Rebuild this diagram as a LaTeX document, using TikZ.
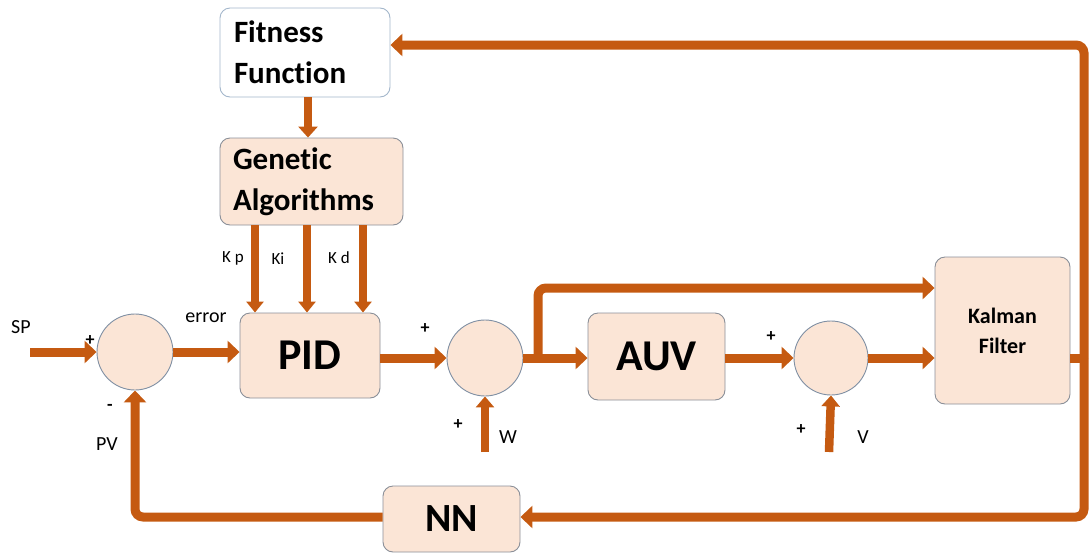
\documentclass[tikz,border=0pt]{standalone}
\usepackage{fontspec}
\setmainfont{Carlito}[Ligatures=NoCommon]
\usetikzlibrary{arrows.meta,calc}
\definecolor{flow}{HTML}{C55A11}
\definecolor{peach}{HTML}{FBE5D6}
\definecolor{boxline}{HTML}{8A8F98}
\definecolor{lightline}{HTML}{A3B6CB}
\definecolor{ringline}{HTML}{7F8FA3}
\begin{document}
\begin{tikzpicture}[x=1pt,y=-1pt,
  block/.style={draw=boxline, fill=peach, rounded corners=10pt, line width=0.9pt,
    inner sep=0pt, font=\bfseries},
  sumnode/.style={circle, draw=ringline, fill=peach, minimum size=76pt,
    inner sep=0pt, line width=0.9pt},
  flowline/.style={draw=flow, line width=9pt},
  flowarrow/.style={flowline, -{Triangle[length=12pt,width=22pt]}},
  gainarrow/.style={draw=flow, line width=7.5pt, -{Triangle[length=11pt,width=17pt]}},
  noisearrow/.style={draw=flow, line width=8.5pt, -{Triangle[length=11pt,width=18pt]}},
  lbl/.style={font=\fontsize{20}{24}\selectfont, inner sep=0pt},
  gainlbl/.style={font=\fontsize{17}{20}\selectfont, inner sep=0pt},
  sgn/.style={font=\bfseries\fontsize{18}{20}\selectfont, inner sep=0pt}
]
\useasboundingbox (0,0) rectangle (1090,555);

% blocks
\node[block, draw=lightline, fill=white, minimum width=170pt, minimum height=89pt,
  text width=142pt, align=left, font=\bfseries\fontsize{31}{41}\selectfont]
  (fit) at (305,52.5) {Fitness\\Function};
\node[block, minimum width=183pt, minimum height=87pt,
  text width=157pt, align=left, font=\bfseries\fontsize{31}{41}\selectfont]
  (ga) at (311.5,181.5) {Genetic\\Algorithms};
\node[block, minimum width=140pt, minimum height=85pt,
  font=\bfseries\fontsize{44}{50}\selectfont] (pid) at (310,355.5) {PID};
\node[block, minimum width=137pt, minimum height=87pt,
  font=\bfseries\fontsize{44}{50}\selectfont] (auv) at (656.5,356.5) {AUV};
\node[block, minimum width=135pt, minimum height=147pt, align=center,
  font=\bfseries\fontsize{22}{30}\selectfont] (kf) at (1002.5,330.5) {Kalman\\Filter};
\node[block, minimum width=137pt, minimum height=66pt,
  font=\bfseries\fontsize{40}{46}\selectfont] (nn) at (451.5,519) {NN};

% summing junctions
\node[sumnode] (s1) at (135,352) {};
\node[sumnode] (s2) at (485,358) {};
\node[sumnode, minimum size=74pt] (s3) at (831,358) {};

% free ends and routing points
\coordinate (sp) at (30,352);
\coordinate (win) at (485,452);
\coordinate (vin) at (829,452);
\coordinate (br) at (538,358);
\coordinate (brtop) at (538,288);
\coordinate (rtop) at (1084,45);
\coordinate (rbot) at (1084,517);

% optimiser chain
\draw[flowarrow, line width=8pt, -{Triangle[length=11pt,width=19pt]}]
  ([xshift=-3.5pt]ga.north |- fit.south) -- ([xshift=-3.5pt]ga.north);
\draw[gainarrow] ([xshift=-55pt]pid.north |- ga.south) -- ([xshift=-55pt]pid.north);
\draw[gainarrow] ([xshift=-3pt]pid.north |- ga.south) -- ([xshift=-3pt]pid.north);
\draw[gainarrow] ([xshift=53pt]pid.north |- ga.south) -- ([xshift=53pt]pid.north);

% forward path
\draw[flowarrow] (sp) -- (s1.west);
\draw[flowarrow] (s1.east) -- (s1.east -| pid.west);
\draw[flowarrow] (pid.east |- s2) -- (s2.west);
\draw[flowarrow] (s2.east) -- (s2.east -| auv.west);
\draw[flowarrow, rounded corners=8pt] (br) -- (brtop) -- (brtop -| kf.west);
\draw[flowarrow] (auv.east |- s3) -- (s3.west);
\draw[flowarrow] (s3.east) -- (s3.east -| kf.west);

% disturbances
\draw[noisearrow] (win) -- (s2.south);
\draw[noisearrow] (vin) -- (s3.south);

% feedback from the filter
\draw[flowline] (kf.east |- s3) -- (rtop |- s3);
\draw[flowarrow, rounded corners=8pt] (rtop |- s3) -- (rtop) -- (rtop -| fit.east);
\draw[flowarrow, rounded corners=8pt] (rtop |- s3) -- (rbot) -- (rbot -| nn.east);
\draw[flowarrow, rounded corners=8pt] (nn.west |- rbot) -| (s1.south);

% labels
\node[lbl] (lsp) at (21,327) {SP};
\node[sgn] (p1) at (90,341) {+};
\node[sgn] (m1) at (110,407) {-};
\node[lbl] (lpv) at (107,444) {PV};
\node[lbl] (lerr) at (206,318) {error};
\node[gainlbl] (lkp) at (233,258) {K p};
\node[gainlbl] (lki) at (278,259) {Ki};
\node[gainlbl] (lkd) at (339,258) {K d};
\node[sgn] (p2) at (425,329) {+};
\node[sgn] (p3) at (458,425) {+};
\node[lbl] (lw) at (508,437) {W};
\node[sgn] (p4) at (771,337) {+};
\node[sgn] (p5) at (801,430) {+};
\node[lbl] (lv) at (863,437) {V};
\end{tikzpicture}
\end{document}
